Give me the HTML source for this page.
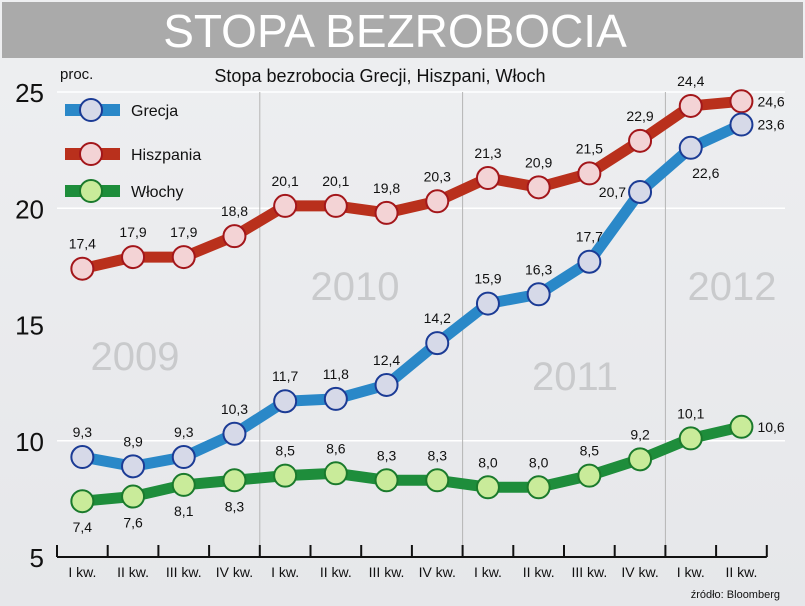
<!DOCTYPE html>
<html><head><meta charset="utf-8"><style>
body{margin:0;width:805px;height:606px;overflow:hidden;background:#fff;font-family:"Liberation Sans",sans-serif}
</style></head><body>
<svg id="c" width="805" height="606" style="display:block">
<defs><linearGradient id="bg" x1="0" y1="0" x2="0" y2="1"><stop offset="0" stop-color="#eeeff1"/><stop offset="1" stop-color="#e6e7ea"/></linearGradient></defs>
<rect width="805" height="606" fill="url(#bg)"/>
<rect x="2" y="2" width="801" height="56" fill="#aaaaaa"/>
<text x="395" y="47" text-anchor="middle" font-size="46" fill="#fff">STOPA BEZROBOCIA</text>
<text x="380" y="82" text-anchor="middle" font-size="18" fill="#111">Stopa bezrobocia Grecji, Hiszpani, Włoch</text>
<text x="60" y="79" font-size="15" fill="#111">proc.</text>
<text x="780" y="598" text-anchor="end" font-size="11" fill="#111">źródło: Bloomberg</text>
<g id="g"></g>
</svg>
<script>
const categories=["I kw.","II kw.","III kw.","IV kw.","I kw.","II kw.","III kw.","IV kw.","I kw.","II kw.","III kw.","IV kw.","I kw.","II kw."];
const years=["2009","2010","2011","2012"];
const yTicks=[5,10,15,20,25];
const grecja=[9.3,8.9,9.3,10.3,11.7,11.8,12.4,14.2,15.9,16.3,17.7,20.7,22.6,23.6];
const hiszpania=[17.4,17.9,17.9,18.8,20.1,20.1,19.8,20.3,21.3,20.9,21.5,22.9,24.4,24.6];
const wlochy=[7.4,7.6,8.1,8.3,8.5,8.6,8.3,8.3,8.0,8.0,8.5,9.2,10.1,10.6];
const NS="http://www.w3.org/2000/svg",g=document.getElementById('g');
const x0=57,step=50.7,yBase=557,yTop=92,vMin=5,vMax=25;
const X=i=>x0+step*(i+0.5), Y=v=>yBase-(v-vMin)/(vMax-vMin)*(yBase-yTop);
function el(t,a,p){const e=document.createElementNS(NS,t);for(const k in a)e.setAttribute(k,a[k]);(p||g).appendChild(e);return e;}
const yearPos=[[135,370],[355,300],[575,390],[732,300]];
years.forEach((y,i)=>{const t=el('text',{x:yearPos[i][0],y:yearPos[i][1],'text-anchor':'middle','font-size':40,fill:'#c9cacc'});t.textContent=y;

});
[25,20,10].forEach(v=>{const l=el('line',{x1:x0,x2:785,y1:Y(v),y2:Y(v),stroke:'#fff','stroke-width':1.5});

});
[4,8,12].forEach(i=>{const l=el('line',{x1:x0+step*i,x2:x0+step*i,y1:yTop,y2:yBase,stroke:'#b5b5b5','stroke-width':1});

});
yTicks.forEach(v=>{const t=el('text',{x:44,y:Y(v)+10,'text-anchor':'end','font-size':26,fill:'#111'});t.textContent=v;

});
const ax=el('line',{x1:x0,x2:x0+step*14,y1:yBase,y2:yBase,stroke:'#111','stroke-width':2});


for(let i=0;i<=14;i++){const l=el('line',{x1:x0+step*i,x2:x0+step*i,y1:yBase-12,y2:yBase,stroke:'#111','stroke-width':2});

}
categories.forEach((c,i)=>{const t=el('text',{x:X(i),y:yBase+20,'text-anchor':'middle','font-size':14,fill:'#111'});t.textContent=c;

});
function series(name,vals,line,stroke,fill,pos){
 const gg=el('g',{});
 
 
 el('polyline',{points:vals.map((v,i)=>X(i)+','+Y(v)).join(' '),fill:'none',stroke:line,'stroke-width':11,'stroke-linejoin':'round'},gg);
 vals.forEach((v,i)=>{const c=el('circle',{cx:X(i),cy:Y(v),r:11,fill:fill,stroke:stroke,'stroke-width':2},gg);
 
 
 const p=pos(i);let dx=0,dy=-20,a='middle';
 if(p==='b')dy=31; if(p==='r'){dx=16;dy=5;a='start';} if(p==='l'){dx=-14;dy=5;a='end';} if(p==='br'){dx=15;dy=30;}
 const t=el('text',{x:X(i)+dx,y:Y(v)+dy,'text-anchor':a,'font-size':14,fill:'#111'},gg);t.textContent=v.toFixed(1).replace('.',',');
 
 });
}
series('hiszpania',hiszpania,'#b9301c','#a3161a','#f3d3d5',i=>i===13?'r':'a');
series('grecja',grecja,'#2a88c8','#1b3b95','#d6d9e8',i=>i===13?'r':i===11?'l':i===12?'br':'a');
series('wlochy',wlochy,'#1e8d3b','#1a7a2c','#c9eb9a',i=>i===13?'r':i<4?'b':'a');
[['Grecja','#2a88c8','#1b3b95','#d6d9e8',110],['Hiszpania','#b9301c','#a3161a','#f3d3d5',154],['Włochy','#1e8d3b','#1a7a2c','#c9eb9a',191]].forEach(d=>{
 const lg=el('g',{});
 
 
 el('rect',{x:65,y:d[4]-6,width:55,height:12,fill:d[1]},lg);
 el('circle',{cx:91,cy:d[4],r:11,fill:d[3],stroke:d[2],'stroke-width':2},lg);
 const t=el('text',{x:131,y:d[4]+6,'font-size':16,fill:'#111'},lg);t.textContent=d[0];});
</script>
</body></html>
